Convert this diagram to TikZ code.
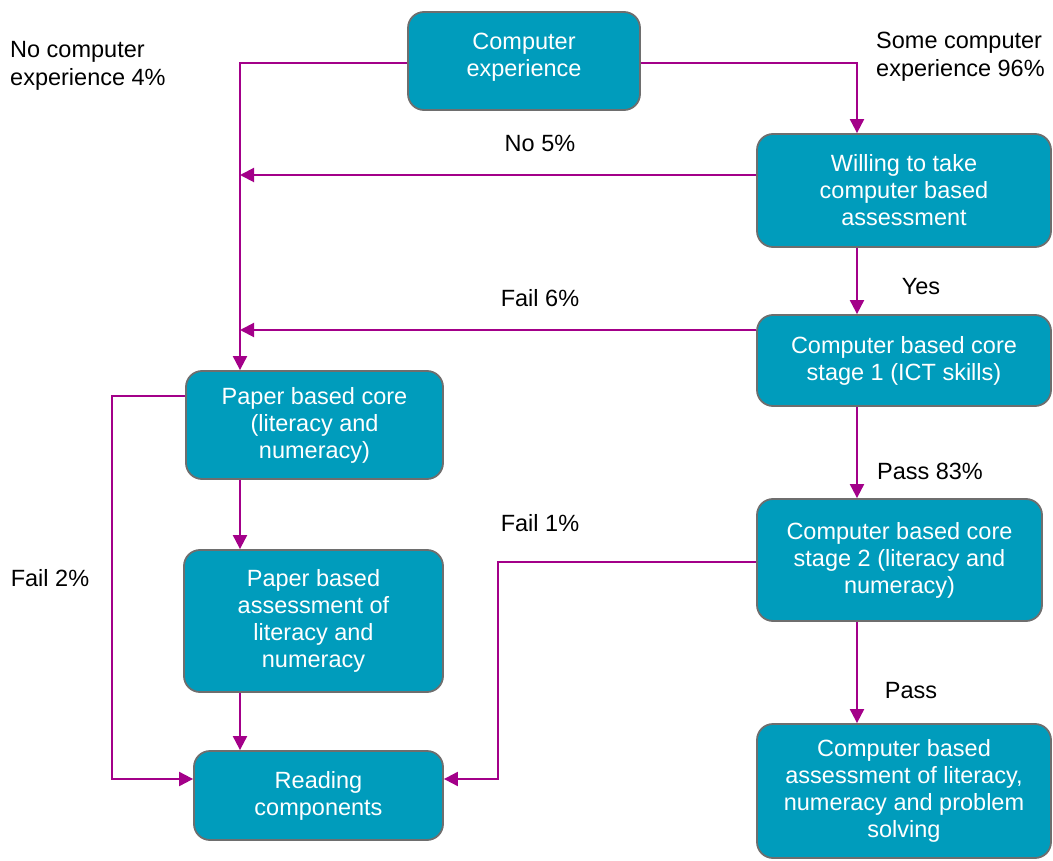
\documentclass[tikz,border=0pt]{standalone}
\usepackage{fontspec}
\setmainfont{Liberation Sans}
\usetikzlibrary{arrows.meta}
\definecolor{boxfill}{RGB}{0,156,188}
\definecolor{boxedge}{RGB}{110,110,110}
\definecolor{flow}{RGB}{163,0,137}
\begin{document}
\begin{tikzpicture}[x=1pt,y=-1pt,
  box/.style={draw=boxedge, line width=1.8pt, fill=boxfill, rounded corners=16pt,
    text=white, align=center, inner sep=0pt, font=\fontsize{23.5}{27}\selectfont},
  conn/.style={draw=flow, line width=2pt, -{Triangle[length=14pt,width=14pt]}},
  lab/.style={font=\fontsize{23.5}{28}\selectfont, inner sep=0pt}]
\useasboundingbox (0,0) rectangle (1053,861);
\coordinate (lx) at (240,0);
\coordinate (rx) at (857,0);
\node[box, minimum width=232pt, minimum height=98pt] (ce) at (524,61) {Computer\\experience\\[-15pt]\mbox{}};
\node[box, minimum width=294pt, minimum height=113pt] (willing) at (904,190.5) {Willing to take\\computer based\\assessment};
\node[box, minimum width=294pt, minimum height=91pt] (stage1) at (904,360.5) {Computer based core\\stage 1 (ICT skills)};
\node[box, minimum width=285pt, minimum height=122pt] (stage2) at (899.5,560) {Computer based core\\stage 2 (literacy and\\numeracy)};
\node[box, minimum width=294pt, minimum height=134pt] (final) at (904,791) {Computer based\\assessment of literacy,\\numeracy and problem\\solving};
\node[box, minimum width=257pt, minimum height=108pt] (pcore) at (314.5,425) {Paper based core\\(literacy and\\numeracy)};
\node[box, minimum width=259pt, minimum height=142pt] (passess) at (313.5,621) {Paper based\\assessment of\\literacy and\\numeracy};
\node[box, minimum width=249pt, minimum height=89pt] (reading) at (318.5,795.5) {Reading\\components};

\draw[conn] (ce.west |- 0,63) -| (lx |- pcore.north);
\draw[conn] (ce.east |- 0,63) -| (rx |- willing.north);
\draw[conn] (willing.west |- 0,175) -- (lx |- 0,175);
\draw[conn] (rx |- willing.south) -- (rx |- stage1.north);
\draw[conn] (stage1.west |- 0,330) -- (lx |- 0,330);
\draw[conn] (rx |- stage1.south) -- (rx |- stage2.north);
\draw[conn] (stage2.west |- 0,562) -- (498,562) -- (498,779) -- (reading.east |- 0,779);
\draw[conn] (rx |- stage2.south) -- (rx |- final.north);
\draw[conn] (pcore.west |- 0,396) -- (112,396) -- (112,779) -- (reading.west |- 0,779);
\draw[conn] (lx |- pcore.south) -- (lx |- passess.north);
\draw[conn] (lx |- passess.south) -- (lx |- reading.north);

\node[lab, anchor=west, align=left] (l1) at (10,66) {No computer\\experience 4\%};
\node[lab, anchor=west, align=left] (l2) at (876,56.5) {Some computer\\experience 96\%};
\node[lab] (l3) at (540,143) {No 5\%};
\node[lab] (l4) at (921,287) {Yes};
\node[lab] (l5) at (540,298) {Fail 6\%};
\node[lab] (l6) at (930,471) {Pass 83\%};
\node[lab] (l7) at (540,523) {Fail 1\%};
\node[lab] (l8) at (50,578) {Fail 2\%};
\node[lab] (l9) at (911,691) {Pass};
\end{tikzpicture}
\end{document}
